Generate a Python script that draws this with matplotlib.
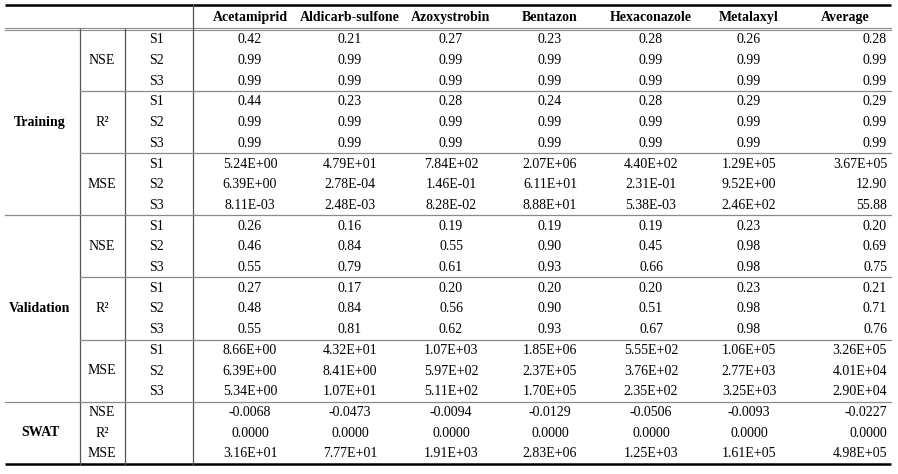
import matplotlib
matplotlib.use("Agg")
import matplotlib.pyplot as plt

columns = ["Acetamiprid", "Aldicarb-sulfone", "Azoxystrobin", "Bentazon",
           "Hexaconazole", "Metalaxyl", "Average"]
sections = ["Training", "Validation", "SWAT"]
metrics = ["NSE", "R²", "MSE"]
scenarios = ["S1", "S2", "S3"]

acetamiprid = ["0.42", "0.99", "0.99", "0.44", "0.99", "0.99", "5.24E+00", "6.39E+00", "8.11E-03",
               "0.26", "0.46", "0.55", "0.27", "0.48", "0.55", "8.66E+00", "6.39E+00", "5.34E+00",
               "-0.0068", "0.0000", "3.16E+01"]
aldicarb = ["0.21", "0.99", "0.99", "0.23", "0.99", "0.99", "4.79E+01", "2.78E-04", "2.48E-03",
            "0.16", "0.84", "0.79", "0.17", "0.84", "0.81", "4.32E+01", "8.41E+00", "1.07E+01",
            "-0.0473", "0.0000", "7.77E+01"]
azoxystrobin = ["0.27", "0.99", "0.99", "0.28", "0.99", "0.99", "7.84E+02", "1.46E-01", "8.28E-02",
                "0.19", "0.55", "0.61", "0.20", "0.56", "0.62", "1.07E+03", "5.97E+02", "5.11E+02",
                "-0.0094", "0.0000", "1.91E+03"]
bentazon = ["0.23", "0.99", "0.99", "0.24", "0.99", "0.99", "2.07E+06", "6.11E+01", "8.88E+01",
            "0.19", "0.90", "0.93", "0.20", "0.90", "0.93", "1.85E+06", "2.37E+05", "1.70E+05",
            "-0.0129", "0.0000", "2.83E+06"]
hexaconazole = ["0.28", "0.99", "0.99", "0.28", "0.99", "0.99", "4.40E+02", "2.31E-01", "5.38E-03",
                "0.19", "0.45", "0.66", "0.20", "0.51", "0.67", "5.55E+02", "3.76E+02", "2.35E+02",
                "-0.0506", "0.0000", "1.25E+03"]
metalaxyl = ["0.26", "0.99", "0.99", "0.29", "0.99", "0.99", "1.29E+05", "9.52E+00", "2.46E+02",
             "0.23", "0.98", "0.98", "0.23", "0.98", "0.98", "1.06E+05", "2.77E+03", "3.25E+03",
             "-0.0093", "0.0000", "1.61E+05"]
average = ["0.28", "0.99", "0.99", "0.29", "0.99", "0.99", "3.67E+05", "12.90", "55.88",
           "0.20", "0.69", "0.75", "0.21", "0.71", "0.76", "3.26E+05", "4.01E+04", "2.90E+04",
           "-0.0227", "0.0000", "4.98E+05"]
values = [acetamiprid, aldicarb, azoxystrobin, bentazon, hexaconazole, metalaxyl, average]

W, H = 898, 474
fig = plt.figure(figsize=(W / 100, H / 100), dpi=100)
ax = fig.add_axes([0, 0, 1, 1])
ax.set_xlim(0, W)
ax.set_ylim(H, 0)
ax.axis("off")

FONT = "Liberation Serif"
fs = 10

x_left, x_right = 5, 891
v1, v2, v3 = 80, 125, 193
y_top = 5
y_head = 29
row_h = 20.7
n_rows = 21
y_bot = y_head + n_rows * row_h

col_centers = [250, 350, 451, 550, 651, 749, 845]
avg_right = 887

grey = "#8a8a8a"

# top/bottom rules
ax.plot([x_left, x_right], [y_top, y_top], color="black", lw=1.8, solid_capstyle="butt")
ax.plot([x_left, x_right], [y_bot, y_bot], color="black", lw=1.8, solid_capstyle="butt")
# header double line
ax.plot([x_left, x_right], [y_head - 1.2, y_head - 1.2], color=grey, lw=0.8)
ax.plot([x_left, x_right], [y_head + 1.0, y_head + 1.0], color=grey, lw=0.8)
# vertical lines
ax.plot([v1, v1], [y_head, y_bot], color="#555555", lw=0.9)
ax.plot([v2, v2], [y_head, y_bot], color="#555555", lw=0.9)
ax.plot([v3, v3], [y_top, y_bot], color="#555555", lw=0.9)

# header
for c, name in zip(col_centers, columns):
    ax.text(c, (y_top + y_head) / 2 + 0.5, name, ha="center", va="center",
            fontsize=fs, fontweight="bold", family=FONT)

# section separators
for k in range(1, 3):
    y = y_head + k * 9 * row_h
    ax.plot([x_left, x_right], [y, y], color=grey, lw=0.9)
# group separators within Training / Validation
for s in range(2):
    for g in (1, 2):
        y = y_head + (s * 9 + g * 3) * row_h
        ax.plot([v1, x_right], [y, y], color=grey, lw=0.9)

def rc(i):
    return y_head + (i + 0.5) * row_h + 0.5

# section labels
for s, name in enumerate(sections):
    if s < 2:
        yc = y_head + (s * 9 + 4.5) * row_h
    else:
        yc = y_head + (18 + 1.5) * row_h
    ax.text(40, yc, name, ha="center", va="center", fontsize=fs,
            fontweight="bold", family=FONT)

# metric / scenario labels
for s in range(2):
    for g, m in enumerate(metrics):
        yc = y_head + (s * 9 + g * 3 + 1.5) * row_h
        ax.text(102, yc, m, ha="center", va="center", fontsize=fs, family=FONT)
        for j, sc in enumerate(scenarios):
            ax.text(156, rc(s * 9 + g * 3 + j), sc, ha="center", va="center",
                    fontsize=fs, family=FONT)
for g, m in enumerate(metrics):
    ax.text(102, rc(18 + g), m, ha="center", va="center", fontsize=fs, family=FONT)

# values
for ci, col in enumerate(values):
    for i, v in enumerate(col):
        if ci == len(values) - 1:
            ax.text(avg_right, rc(i), v, ha="right", va="center", fontsize=fs, family=FONT)
        else:
            ax.text(col_centers[ci], rc(i), v, ha="center", va="center", fontsize=fs, family=FONT)

fig.savefig("out.png", dpi=100, facecolor="white")
